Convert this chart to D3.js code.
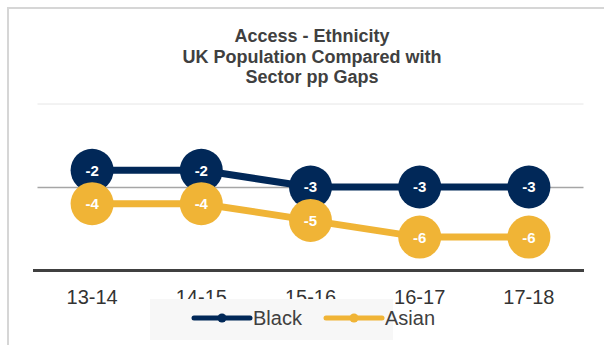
<!DOCTYPE html>
<html>
<head>
<meta charset="utf-8">
<script src="https://cdn.jsdelivr.net/npm/d3@7"></script>
<style>
  body { margin: 0; background: #fff; }
  svg { display: block; font-family: "Liberation Sans", Arial, sans-serif; }
</style>
</head>
<body>
<div id="chart"></div>
<script>
// chart data
var years = ["13-14", "14-15", "15-16", "16-17", "17-18"];
var blackValues = [-2, -2, -3, -3, -3];
var asianValues = [-4, -4, -5, -6, -6];
var yTicks = [-8, -3, 2];
var titleLines = ["Access - Ethnicity", "UK Population Compared with", "Sector pp Gaps"];

var series = [
  { name: "Black", values: blackValues, color: "#012858" },
  { name: "Asian", values: asianValues, color: "#f0b436" }
];

var width = 604, height = 345;

var svg = d3.select("#chart").append("svg")
    .attr("width", width)
    .attr("height", height);

// outer frame
svg.append("rect")
    .attr("x", 8).attr("y", 8)
    .attr("width", 640).attr("height", 400)
    .attr("fill", "none")
    .attr("stroke", "#d6d6d6")
    .attr("stroke-width", 2);

// scales
var x = d3.scaleBand()
    .domain(years)
    .range([37.5, 583.5]);
var y = d3.scaleLinear()
    .domain([-8, 2])
    .range([270.5, 103.5]);

// title
svg.append("g").selectAll("text")
    .data(titleLines)
  .enter().append("text")
    .attr("x", 312)
    .attr("y", function(d, i) { return 42 + i * 20.5; })
    .attr("text-anchor", "middle")
    .attr("font-size", "18px")
    .attr("font-weight", "bold")
    .attr("fill", "#404040")
    .text(function(d) { return d; });

// gridlines
svg.append("g")
    .attr("class", "grid")
    .attr("transform", "translate(" + x.range()[0] + ",0)")
    .call(d3.axisLeft(y)
        .tickValues(yTicks.filter(function(t) { return t !== -8; }))
        .tickSize(-(x.range()[1] - x.range()[0]))
        .tickFormat(""))
    .call(function(g) { g.select(".domain").remove(); })
    .call(function(g) {
      g.selectAll(".tick line")
        .attr("stroke", function(d) { return d === 2 ? "#e6e6e6" : "#a6a6a6"; })
        .attr("stroke-width", function(d) { return d === 2 ? 1 : 1.5; });
    });

// x axis (baseline + labels)
var xAxis = svg.append("g")
    .attr("transform", "translate(0," + y(-8) + ")")
    .call(d3.axisBottom(x).tickSize(0).tickPadding(19));
xAxis.select(".domain")
    .attr("stroke", "#404040")
    .attr("stroke-width", 3)
    .attr("d", "M33,0H584");
xAxis.selectAll(".tick text")
    .attr("font-family", "Liberation Sans, Arial, sans-serif")
    .attr("font-size", "20px")
    .attr("fill", "#333");

// lines and labelled points
var line = d3.line()
    .x(function(d, i) { return x(years[i]) + x.bandwidth() / 2; })
    .y(function(d) { return y(d); });

series.forEach(function(s) {
  var g = svg.append("g");
  g.append("path")
      .datum(s.values)
      .attr("d", line)
      .attr("fill", "none")
      .attr("stroke", s.color)
      .attr("stroke-width", 7);
  var pt = g.selectAll(".pt")
      .data(s.values)
    .enter().append("g")
      .attr("class", "pt")
      .attr("transform", function(d, i) {
        return "translate(" + (x(years[i]) + x.bandwidth() / 2) + "," + y(d) + ")";
      });
  pt.append("circle")
      .attr("r", 21.5)
      .attr("fill", s.color);
  pt.append("text")
      .attr("text-anchor", "middle")
      .attr("dy", "0.36em")
      .attr("font-size", "15px")
      .attr("font-weight", "bold")
      .attr("fill", "#fff")
      .text(function(d) { return d; });
});

// legend
var legend = svg.append("g");
legend.append("rect")
    .attr("x", 150).attr("y", 299)
    .attr("width", 243).attr("height", 41)
    .attr("fill", "#f7f7f7");

var legendX = [194, 326];
series.forEach(function(s, i) {
  var lg = legend.append("g")
      .attr("transform", "translate(" + legendX[i] + ",318)");
  lg.append("line")
      .attr("x1", 0).attr("x2", 56)
      .attr("stroke", s.color)
      .attr("stroke-width", 5)
      .attr("stroke-linecap", "round");
  lg.append("circle")
      .attr("cx", 28).attr("r", 4.5)
      .attr("fill", s.color);
  lg.append("text")
      .attr("x", 59)
      .attr("y", 7)
      .attr("font-size", "20px")
      .attr("fill", "#404040")
      .text(s.name);
});
</script>
</body>
</html>
